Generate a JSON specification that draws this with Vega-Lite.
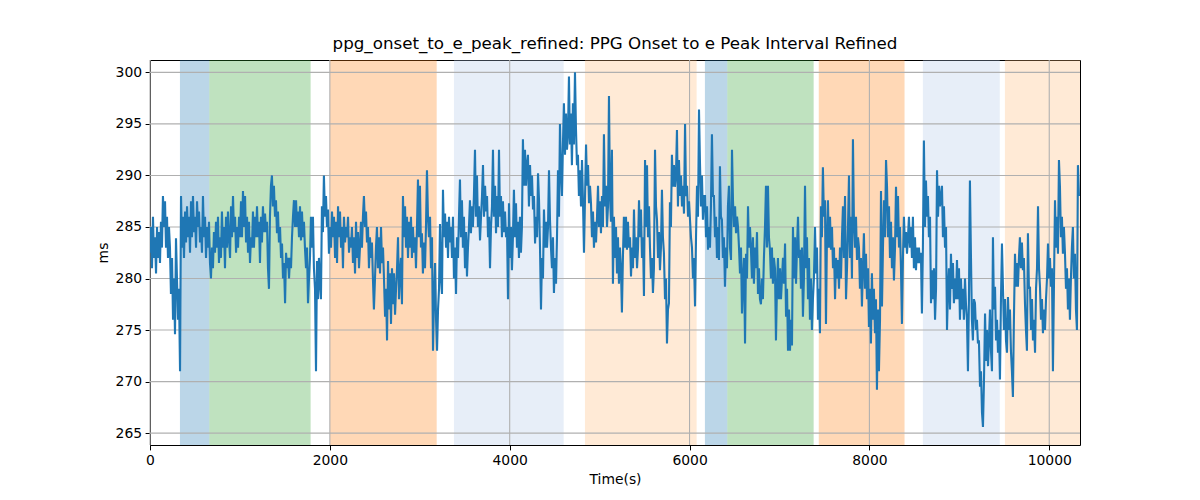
{
"$schema": "https://vega.github.io/schema/vega-lite/v6.json",
"autosize": "none",
"width": 930,
"height": 385,
"padding": {"left": 150, "top": 60, "right": 120, "bottom": 55},
"background": "white",
"title": {"text": "ppg_onset_to_e_peak_refined: PPG Onset to e Peak Interval Refined", "font": "DejaVu Sans", "fontSize": 16.7, "fontWeight": "normal", "color": "black", "offset": 7},
"config": {
  "view": {"stroke": "black", "strokeWidth": 1},
  "axis": {"domain": false, "grid": false, "labelFlush": false, "labelOverlap": false, "tickColor": "black", "tickSize": 4.9, "tickWidth": 1, "labelColor": "black", "titleColor": "black", "labelFont": "DejaVu Sans", "titleFont": "DejaVu Sans", "labelFontSize": 13.9, "titleFontSize": 13.9, "titleFontWeight": "normal", "labelPadding": 3.5, "titlePadding": 5}
},
"datasets": {
  "bands": [
    {"start": 333, "end": 660, "c": "blue"},
    {"start": 660, "end": 1786, "c": "green"},
    {"start": 2001, "end": 3188, "c": "orange"},
    {"start": 3380, "end": 4600, "c": "lightblue"},
    {"start": 4837, "end": 6079, "c": "lightorange"},
    {"start": 6171, "end": 6420, "c": "blue"},
    {"start": 6420, "end": 7380, "c": "green"},
    {"start": 7437, "end": 8391, "c": "orange"},
    {"start": 8595, "end": 9450, "c": "lightblue"},
    {"start": 9507, "end": 10342, "c": "lightorange"}
  ],
  "xgrid": [{"x": 0}, {"x": 2000}, {"x": 4000}, {"x": 6000}, {"x": 8000}, {"x": 10000}],
  "ygrid": [{"y": 265}, {"y": 270}, {"y": 275}, {"y": 280}, {"y": 285}, {"y": 290}, {"y": 295}, {"y": 300}],
  "series": [
{"t":0,"v":282.5},{"t":11,"v":285},{"t":22,"v":281},{"t":33,"v":286},{"t":44,"v":282},{"t":56,"v":284},{"t":67,"v":280.5},{"t":78,"v":285},{"t":89,"v":282},{"t":100,"v":284.5},
{"t":111,"v":281.5},{"t":122,"v":285.5},{"t":133,"v":283},{"t":144,"v":288},{"t":156,"v":285},{"t":167,"v":287.5},{"t":178,"v":283},{"t":189,"v":286},{"t":200,"v":282},{"t":211,"v":285},
{"t":222,"v":283},{"t":233,"v":278.5},{"t":245,"v":282},{"t":256,"v":276},{"t":267,"v":280},{"t":278,"v":274.6},{"t":289,"v":283.9},{"t":300,"v":280},{"t":311,"v":276},{"t":322,"v":279},
{"t":334,"v":271},{"t":345,"v":288},{"t":356,"v":283},{"t":367,"v":286},{"t":378,"v":282},{"t":390,"v":286.5},{"t":401,"v":283.5},{"t":412,"v":287},{"t":423,"v":284},{"t":434,"v":286},
{"t":445,"v":282.5},{"t":456,"v":287.5},{"t":467,"v":284},{"t":478,"v":288},{"t":489,"v":284.5},{"t":501,"v":286},{"t":512,"v":283},{"t":523,"v":287.5},{"t":534,"v":285},{"t":545,"v":286.5},
{"t":556,"v":283.5},{"t":567,"v":285},{"t":578,"v":282.5},{"t":589,"v":288},{"t":600,"v":284},{"t":612,"v":286},{"t":623,"v":282},{"t":634,"v":285},{"t":645,"v":283},{"t":656,"v":285.5},
{"t":667,"v":281.5},{"t":678,"v":280},{"t":689,"v":283},{"t":700,"v":281},{"t":711,"v":284.5},{"t":723,"v":282.5},{"t":734,"v":285.5},{"t":745,"v":283},{"t":756,"v":286},{"t":767,"v":281.5},
{"t":778,"v":284},{"t":789,"v":282},{"t":800,"v":286.5},{"t":811,"v":283},{"t":822,"v":285},{"t":834,"v":281},{"t":845,"v":286},{"t":856,"v":283},{"t":867,"v":286.5},{"t":878,"v":284},
{"t":890,"v":282},{"t":901,"v":287},{"t":912,"v":284},{"t":923,"v":288},{"t":934,"v":284.5},{"t":946,"v":286},{"t":957,"v":282.5},{"t":968,"v":285},{"t":979,"v":283},{"t":990,"v":286},
{"t":1001,"v":284},{"t":1012,"v":287.5},{"t":1023,"v":284},{"t":1034,"v":288.5},{"t":1045,"v":285},{"t":1057,"v":288},{"t":1068,"v":283.5},{"t":1079,"v":286},{"t":1090,"v":282.5},{"t":1101,"v":285.5},
{"t":1112,"v":281.5},{"t":1123,"v":284},{"t":1134,"v":283},{"t":1145,"v":286.5},{"t":1156,"v":283},{"t":1168,"v":286},{"t":1179,"v":284},{"t":1190,"v":287},{"t":1201,"v":284},{"t":1212,"v":285.5},
{"t":1223,"v":281.5},{"t":1234,"v":286},{"t":1245,"v":283.5},{"t":1256,"v":287},{"t":1267,"v":284.5},{"t":1279,"v":286.3},{"t":1290,"v":284.5},{"t":1301,"v":285.5},{"t":1312,"v":281},{"t":1323,"v":279},
{"t":1334,"v":286},{"t":1345,"v":289},{"t":1356,"v":290},{"t":1367,"v":287},{"t":1378,"v":289},{"t":1390,"v":286},{"t":1401,"v":287.6},{"t":1412,"v":284.4},{"t":1423,"v":286.5},{"t":1434,"v":283.5},
{"t":1446,"v":285},{"t":1457,"v":282},{"t":1468,"v":283.4},{"t":1479,"v":280},{"t":1490,"v":281.5},{"t":1502,"v":277.6},{"t":1513,"v":282.5},{"t":1524,"v":281},{"t":1535,"v":282},{"t":1546,"v":280},
{"t":1557,"v":282},{"t":1568,"v":281},{"t":1579,"v":284},{"t":1590,"v":286},{"t":1601,"v":287.6},{"t":1613,"v":285},{"t":1624,"v":287.6},{"t":1635,"v":285},{"t":1646,"v":286.5},{"t":1657,"v":284},
{"t":1668,"v":287},{"t":1679,"v":283.7},{"t":1690,"v":286.5},{"t":1701,"v":284},{"t":1712,"v":285.5},{"t":1724,"v":282.8},{"t":1735,"v":281},{"t":1746,"v":283},{"t":1757,"v":277.6},{"t":1768,"v":280},
{"t":1779,"v":282},{"t":1790,"v":286},{"t":1801,"v":283},{"t":1812,"v":286},{"t":1823,"v":281},{"t":1835,"v":279},{"t":1846,"v":271},{"t":1857,"v":281.7},{"t":1868,"v":278},{"t":1879,"v":282},
{"t":1890,"v":279.5},{"t":1901,"v":278},{"t":1912,"v":287},{"t":1923,"v":284.5},{"t":1934,"v":290},{"t":1946,"v":286},{"t":1957,"v":288},{"t":1968,"v":285},{"t":1979,"v":286.7},{"t":1990,"v":282.4},
{"t":2002,"v":285},{"t":2013,"v":283},{"t":2024,"v":286.5},{"t":2035,"v":284},{"t":2046,"v":286},{"t":2058,"v":282},{"t":2069,"v":285.5},{"t":2080,"v":281.5},{"t":2091,"v":287},{"t":2102,"v":284},
{"t":2113,"v":286.5},{"t":2124,"v":283},{"t":2135,"v":285},{"t":2146,"v":281},{"t":2157,"v":286},{"t":2169,"v":283.5},{"t":2180,"v":285},{"t":2191,"v":284},{"t":2202,"v":286},{"t":2213,"v":282.5},
{"t":2224,"v":284},{"t":2235,"v":283},{"t":2246,"v":285},{"t":2257,"v":281.5},{"t":2268,"v":284},{"t":2280,"v":280.5},{"t":2291,"v":285.5},{"t":2302,"v":282},{"t":2313,"v":284.5},{"t":2324,"v":281},
{"t":2335,"v":283},{"t":2346,"v":285.5},{"t":2357,"v":283},{"t":2368,"v":286},{"t":2379,"v":288},{"t":2391,"v":285},{"t":2402,"v":286.5},{"t":2413,"v":283.5},{"t":2424,"v":285},{"t":2435,"v":281},
{"t":2446,"v":284},{"t":2457,"v":282},{"t":2468,"v":283.5},{"t":2479,"v":280},{"t":2490,"v":277},{"t":2502,"v":280},{"t":2513,"v":283},{"t":2524,"v":285},{"t":2535,"v":281},{"t":2546,"v":284},
{"t":2558,"v":280.5},{"t":2569,"v":285},{"t":2580,"v":281.5},{"t":2591,"v":283},{"t":2602,"v":280},{"t":2614,"v":276.3},{"t":2625,"v":279},{"t":2636,"v":274},{"t":2647,"v":281.7},{"t":2658,"v":277},
{"t":2669,"v":280.5},{"t":2680,"v":275.6},{"t":2691,"v":281},{"t":2702,"v":277.5},{"t":2713,"v":280.5},{"t":2725,"v":276.5},{"t":2736,"v":279},{"t":2747,"v":281},{"t":2758,"v":284},{"t":2769,"v":278},
{"t":2780,"v":280.5},{"t":2791,"v":282},{"t":2802,"v":277.5},{"t":2813,"v":288},{"t":2824,"v":284},{"t":2836,"v":287},{"t":2847,"v":283},{"t":2858,"v":286},{"t":2869,"v":282},{"t":2880,"v":285.5},
{"t":2891,"v":283},{"t":2902,"v":286},{"t":2913,"v":282},{"t":2924,"v":285},{"t":2935,"v":282.5},{"t":2947,"v":284},{"t":2958,"v":281},{"t":2969,"v":285},{"t":2980,"v":289.6},{"t":2991,"v":284},
{"t":3002,"v":289},{"t":3013,"v":283},{"t":3024,"v":284.4},{"t":3035,"v":280.5},{"t":3046,"v":283.5},{"t":3058,"v":281},{"t":3069,"v":285},{"t":3080,"v":290.5},{"t":3091,"v":286},{"t":3102,"v":284},
{"t":3114,"v":286},{"t":3125,"v":281},{"t":3136,"v":284},{"t":3147,"v":273},{"t":3158,"v":278},{"t":3170,"v":281.5},{"t":3181,"v":276},{"t":3192,"v":273},{"t":3203,"v":277},{"t":3214,"v":279},
{"t":3225,"v":285.3},{"t":3236,"v":280},{"t":3247,"v":278.5},{"t":3258,"v":288.6},{"t":3269,"v":284},{"t":3281,"v":286.3},{"t":3292,"v":283},{"t":3303,"v":285.5},{"t":3314,"v":282},{"t":3325,"v":286},
{"t":3336,"v":283.5},{"t":3347,"v":285},{"t":3358,"v":282},{"t":3369,"v":286},{"t":3380,"v":280},{"t":3392,"v":283},{"t":3403,"v":278.5},{"t":3414,"v":284},{"t":3425,"v":282},{"t":3436,"v":286},
{"t":3447,"v":289.6},{"t":3458,"v":284},{"t":3469,"v":287.6},{"t":3480,"v":283},{"t":3491,"v":286},{"t":3503,"v":281},{"t":3514,"v":284.5},{"t":3525,"v":280.2},{"t":3536,"v":283},{"t":3547,"v":285},
{"t":3558,"v":287.6},{"t":3569,"v":284.4},{"t":3580,"v":287},{"t":3591,"v":285},{"t":3602,"v":288},{"t":3614,"v":292.5},{"t":3625,"v":286},{"t":3636,"v":290},{"t":3647,"v":285},{"t":3658,"v":287},
{"t":3670,"v":283.7},{"t":3681,"v":286},{"t":3692,"v":288},{"t":3703,"v":291},{"t":3714,"v":286},{"t":3726,"v":289},{"t":3737,"v":286.5},{"t":3748,"v":288},{"t":3759,"v":284},{"t":3770,"v":286},
{"t":3781,"v":281},{"t":3792,"v":285},{"t":3803,"v":287},{"t":3814,"v":292.5},{"t":3825,"v":286},{"t":3837,"v":289},{"t":3848,"v":284.4},{"t":3859,"v":288},{"t":3870,"v":285},{"t":3881,"v":292.5},
{"t":3892,"v":286},{"t":3903,"v":288},{"t":3914,"v":284},{"t":3925,"v":287.5},{"t":3936,"v":284.5},{"t":3948,"v":286.5},{"t":3959,"v":284},{"t":3970,"v":285},{"t":3981,"v":278},{"t":3992,"v":287.3},
{"t":4003,"v":282},{"t":4014,"v":285},{"t":4025,"v":280.8},{"t":4036,"v":284},{"t":4047,"v":288.6},{"t":4059,"v":284},{"t":4070,"v":287.3},{"t":4081,"v":283},{"t":4092,"v":285.5},{"t":4103,"v":282},
{"t":4114,"v":286},{"t":4125,"v":282.5},{"t":4136,"v":285},{"t":4147,"v":293.5},{"t":4158,"v":289},{"t":4170,"v":292.5},{"t":4181,"v":289},{"t":4192,"v":291},{"t":4203,"v":292},{"t":4214,"v":287},
{"t":4226,"v":291},{"t":4237,"v":288},{"t":4248,"v":290},{"t":4259,"v":286.7},{"t":4270,"v":288},{"t":4282,"v":283.4},{"t":4293,"v":286},{"t":4304,"v":284},{"t":4315,"v":290.2},{"t":4326,"v":287.6},
{"t":4337,"v":283},{"t":4348,"v":277},{"t":4359,"v":282},{"t":4370,"v":280},{"t":4381,"v":286.7},{"t":4393,"v":283},{"t":4404,"v":285.5},{"t":4415,"v":283},{"t":4426,"v":285},{"t":4437,"v":290.5},
{"t":4448,"v":285.7},{"t":4459,"v":283},{"t":4470,"v":281},{"t":4481,"v":284},{"t":4492,"v":278.6},{"t":4504,"v":282},{"t":4515,"v":279.5},{"t":4526,"v":284},{"t":4537,"v":290.5},{"t":4548,"v":286},
{"t":4559,"v":295},{"t":4570,"v":290.5},{"t":4581,"v":288},{"t":4592,"v":293},{"t":4603,"v":297},{"t":4615,"v":292},{"t":4626,"v":296},{"t":4637,"v":292.5},{"t":4648,"v":294},{"t":4659,"v":299.6},
{"t":4670,"v":293},{"t":4681,"v":296},{"t":4692,"v":291},{"t":4703,"v":297},{"t":4714,"v":293},{"t":4726,"v":300},{"t":4737,"v":294.5},{"t":4748,"v":291},{"t":4759,"v":292},{"t":4770,"v":288},
{"t":4782,"v":290.5},{"t":4793,"v":287},{"t":4804,"v":291.5},{"t":4815,"v":287.5},{"t":4826,"v":282.5},{"t":4838,"v":288},{"t":4849,"v":293},{"t":4860,"v":289},{"t":4871,"v":291},{"t":4882,"v":287.3},
{"t":4893,"v":289},{"t":4904,"v":287.3},{"t":4915,"v":284},{"t":4926,"v":286.5},{"t":4937,"v":283},{"t":4949,"v":285.5},{"t":4960,"v":283.5},{"t":4971,"v":286},{"t":4982,"v":289},{"t":4993,"v":285},
{"t":5004,"v":287.5},{"t":5015,"v":284.4},{"t":5026,"v":288},{"t":5037,"v":285},{"t":5048,"v":294},{"t":5060,"v":287},{"t":5071,"v":289},{"t":5082,"v":285},{"t":5093,"v":287},{"t":5104,"v":297.7},
{"t":5115,"v":288},{"t":5126,"v":285.5},{"t":5137,"v":292.5},{"t":5148,"v":279.5},{"t":5159,"v":286},{"t":5171,"v":282},{"t":5182,"v":285},{"t":5193,"v":280.5},{"t":5204,"v":284},{"t":5215,"v":279.5},
{"t":5226,"v":283},{"t":5237,"v":281},{"t":5248,"v":276.7},{"t":5259,"v":282},{"t":5270,"v":286},{"t":5282,"v":283},{"t":5293,"v":286},{"t":5304,"v":282.8},{"t":5315,"v":285.5},{"t":5326,"v":283},
{"t":5338,"v":284},{"t":5349,"v":280.2},{"t":5360,"v":283},{"t":5371,"v":281},{"t":5382,"v":286.7},{"t":5394,"v":282},{"t":5405,"v":284},{"t":5416,"v":281},{"t":5427,"v":283},{"t":5438,"v":287.6},
{"t":5449,"v":284},{"t":5460,"v":286.7},{"t":5471,"v":282},{"t":5482,"v":284},{"t":5493,"v":278.3},{"t":5505,"v":291.5},{"t":5516,"v":285},{"t":5527,"v":291},{"t":5538,"v":284},{"t":5549,"v":287},
{"t":5560,"v":283},{"t":5571,"v":280},{"t":5582,"v":282},{"t":5593,"v":278.6},{"t":5604,"v":281},{"t":5616,"v":292.5},{"t":5627,"v":287},{"t":5638,"v":285.7},{"t":5649,"v":282},{"t":5660,"v":284.5},
{"t":5671,"v":280.8},{"t":5682,"v":283},{"t":5693,"v":288.6},{"t":5704,"v":284},{"t":5715,"v":282.5},{"t":5727,"v":278},{"t":5738,"v":280},{"t":5749,"v":273.7},{"t":5760,"v":277},{"t":5771,"v":277.6},
{"t":5782,"v":287.4},{"t":5793,"v":285},{"t":5804,"v":292},{"t":5815,"v":288.9},{"t":5826,"v":291},{"t":5838,"v":288.9},{"t":5849,"v":290},{"t":5860,"v":294.4},{"t":5871,"v":287},{"t":5882,"v":291.5},
{"t":5894,"v":288},{"t":5905,"v":290},{"t":5916,"v":287},{"t":5927,"v":289},{"t":5938,"v":286.3},{"t":5950,"v":295},{"t":5961,"v":288},{"t":5972,"v":289},{"t":5983,"v":286},{"t":5994,"v":287.5},
{"t":6005,"v":285.7},{"t":6016,"v":284},{"t":6027,"v":283},{"t":6038,"v":280},{"t":6049,"v":282},{"t":6061,"v":277.3},{"t":6072,"v":284},{"t":6083,"v":289},{"t":6094,"v":286},{"t":6105,"v":296.4},
{"t":6116,"v":291.2},{"t":6127,"v":287},{"t":6138,"v":290},{"t":6149,"v":285.7},{"t":6160,"v":288},{"t":6172,"v":288},{"t":6183,"v":284},{"t":6194,"v":287},{"t":6205,"v":282.8},{"t":6216,"v":285},
{"t":6227,"v":283},{"t":6238,"v":287},{"t":6249,"v":294},{"t":6260,"v":288},{"t":6271,"v":288},{"t":6283,"v":284},{"t":6294,"v":286},{"t":6305,"v":282},{"t":6316,"v":285},{"t":6327,"v":281.8},
{"t":6338,"v":290.9},{"t":6349,"v":286},{"t":6360,"v":285.7},{"t":6371,"v":282},{"t":6382,"v":284},{"t":6394,"v":279.2},{"t":6405,"v":283},{"t":6416,"v":281},{"t":6427,"v":287},{"t":6438,"v":289},
{"t":6450,"v":283},{"t":6461,"v":281.8},{"t":6472,"v":292.5},{"t":6483,"v":287.6},{"t":6494,"v":285},{"t":6506,"v":287},{"t":6517,"v":284.4},{"t":6528,"v":286},{"t":6539,"v":285},{"t":6550,"v":283},
{"t":6561,"v":280.5},{"t":6572,"v":283},{"t":6583,"v":276.6},{"t":6594,"v":280},{"t":6605,"v":282},{"t":6617,"v":273.7},{"t":6628,"v":282.4},{"t":6639,"v":280},{"t":6650,"v":287},{"t":6661,"v":283},
{"t":6672,"v":285},{"t":6683,"v":282.8},{"t":6694,"v":280},{"t":6705,"v":284},{"t":6716,"v":279.5},{"t":6728,"v":283},{"t":6739,"v":281},{"t":6750,"v":284.5},{"t":6761,"v":278.5},{"t":6772,"v":281},
{"t":6783,"v":278},{"t":6794,"v":277.5},{"t":6805,"v":280},{"t":6816,"v":278},{"t":6827,"v":282},{"t":6839,"v":285},{"t":6850,"v":289},{"t":6861,"v":283},{"t":6872,"v":289},{"t":6883,"v":284},
{"t":6894,"v":282.8},{"t":6905,"v":280},{"t":6916,"v":283},{"t":6927,"v":279.5},{"t":6938,"v":282},{"t":6950,"v":281},{"t":6961,"v":274},{"t":6972,"v":279},{"t":6983,"v":282},{"t":6994,"v":278},
{"t":7006,"v":281},{"t":7017,"v":278},{"t":7028,"v":280},{"t":7039,"v":282},{"t":7050,"v":279.5},{"t":7062,"v":283.4},{"t":7073,"v":276.3},{"t":7084,"v":279},{"t":7095,"v":273},{"t":7106,"v":277},
{"t":7117,"v":273},{"t":7128,"v":276},{"t":7139,"v":273.5},{"t":7150,"v":285},{"t":7161,"v":280},{"t":7173,"v":284},{"t":7184,"v":279.5},{"t":7195,"v":283},{"t":7206,"v":286},{"t":7217,"v":282},
{"t":7228,"v":282.8},{"t":7239,"v":279},{"t":7250,"v":283},{"t":7261,"v":276.3},{"t":7272,"v":280},{"t":7284,"v":289},{"t":7295,"v":281},{"t":7306,"v":284},{"t":7317,"v":278},{"t":7328,"v":282},
{"t":7339,"v":276},{"t":7350,"v":280},{"t":7361,"v":275},{"t":7372,"v":278},{"t":7383,"v":280},{"t":7395,"v":285},{"t":7406,"v":280.5},{"t":7417,"v":283},{"t":7428,"v":276},{"t":7439,"v":279},
{"t":7450,"v":274.7},{"t":7461,"v":287},{"t":7472,"v":284},{"t":7483,"v":290.8},{"t":7494,"v":286},{"t":7506,"v":287.6},{"t":7517,"v":275.6},{"t":7528,"v":284},{"t":7539,"v":287.6},{"t":7550,"v":283},
{"t":7562,"v":286},{"t":7573,"v":282.8},{"t":7584,"v":285},{"t":7595,"v":281},{"t":7606,"v":283},{"t":7618,"v":278},{"t":7629,"v":282},{"t":7640,"v":280},{"t":7651,"v":281.8},{"t":7662,"v":279},
{"t":7673,"v":283},{"t":7684,"v":280},{"t":7695,"v":284},{"t":7706,"v":287},{"t":7717,"v":282},{"t":7729,"v":288},{"t":7740,"v":278},{"t":7751,"v":281},{"t":7762,"v":285},{"t":7773,"v":290},
{"t":7784,"v":282},{"t":7795,"v":286},{"t":7806,"v":280},{"t":7817,"v":293.5},{"t":7828,"v":285.6},{"t":7840,"v":283},{"t":7851,"v":286},{"t":7862,"v":281.8},{"t":7873,"v":284},{"t":7884,"v":283},
{"t":7895,"v":279},{"t":7906,"v":282},{"t":7917,"v":277.3},{"t":7928,"v":281},{"t":7939,"v":284.4},{"t":7951,"v":279},{"t":7962,"v":282.4},{"t":7973,"v":278},{"t":7984,"v":281},{"t":7995,"v":275.3},
{"t":8006,"v":279},{"t":8017,"v":273.7},{"t":8028,"v":280.5},{"t":8039,"v":276},{"t":8050,"v":279},{"t":8062,"v":274.7},{"t":8073,"v":278},{"t":8084,"v":269.2},{"t":8095,"v":277},{"t":8106,"v":271},
{"t":8118,"v":276},{"t":8129,"v":288.5},{"t":8140,"v":277.3},{"t":8151,"v":283},{"t":8162,"v":287.6},{"t":8174,"v":284},{"t":8185,"v":291.5},{"t":8196,"v":288.9},{"t":8207,"v":284},{"t":8218,"v":287},
{"t":8229,"v":282},{"t":8240,"v":285.5},{"t":8251,"v":281},{"t":8262,"v":284},{"t":8273,"v":279.8},{"t":8285,"v":283},{"t":8296,"v":288.9},{"t":8307,"v":284},{"t":8318,"v":288},{"t":8329,"v":283},
{"t":8340,"v":285},{"t":8351,"v":281},{"t":8362,"v":275.6},{"t":8373,"v":282},{"t":8384,"v":286},{"t":8396,"v":283},{"t":8407,"v":284.5},{"t":8418,"v":282.4},{"t":8429,"v":284},{"t":8440,"v":286},
{"t":8451,"v":283},{"t":8462,"v":285},{"t":8473,"v":282},{"t":8484,"v":286},{"t":8495,"v":281},{"t":8507,"v":284},{"t":8518,"v":280.8},{"t":8529,"v":283},{"t":8540,"v":281.5},{"t":8551,"v":283},
{"t":8562,"v":281.5},{"t":8573,"v":282.5},{"t":8584,"v":276.6},{"t":8595,"v":283},{"t":8606,"v":293.4},{"t":8618,"v":285},{"t":8629,"v":289.5},{"t":8640,"v":286},{"t":8651,"v":288},{"t":8662,"v":284},
{"t":8674,"v":286},{"t":8685,"v":277.6},{"t":8696,"v":280.8},{"t":8707,"v":278},{"t":8718,"v":281},{"t":8730,"v":276},{"t":8741,"v":279},{"t":8752,"v":290.5},{"t":8763,"v":286},{"t":8774,"v":289},
{"t":8785,"v":287},{"t":8796,"v":288},{"t":8807,"v":289},{"t":8818,"v":284},{"t":8829,"v":287},{"t":8841,"v":283},{"t":8852,"v":285},{"t":8863,"v":275},{"t":8874,"v":279},{"t":8885,"v":281},
{"t":8896,"v":277},{"t":8907,"v":282.4},{"t":8918,"v":279},{"t":8929,"v":281.5},{"t":8940,"v":277.6},{"t":8952,"v":280},{"t":8963,"v":278},{"t":8974,"v":281.8},{"t":8985,"v":278},{"t":8996,"v":281},
{"t":9007,"v":276},{"t":9018,"v":280},{"t":9029,"v":277},{"t":9040,"v":279},{"t":9051,"v":276},{"t":9063,"v":280},{"t":9074,"v":277.5},{"t":9085,"v":276},{"t":9096,"v":271},{"t":9107,"v":278},
{"t":9118,"v":289.5},{"t":9129,"v":282.4},{"t":9140,"v":276},{"t":9151,"v":274},{"t":9162,"v":278},{"t":9174,"v":277.6},{"t":9185,"v":275},{"t":9196,"v":276},{"t":9207,"v":273.7},{"t":9218,"v":274},
{"t":9230,"v":269.5},{"t":9241,"v":271},{"t":9252,"v":267},{"t":9263,"v":265.6},{"t":9274,"v":270},{"t":9286,"v":276.6},{"t":9297,"v":272},{"t":9308,"v":275},{"t":9319,"v":271.5},{"t":9330,"v":274},
{"t":9341,"v":277},{"t":9352,"v":273},{"t":9363,"v":271},{"t":9374,"v":284},{"t":9385,"v":277},{"t":9397,"v":279.2},{"t":9408,"v":274},{"t":9419,"v":276},{"t":9430,"v":272.8},{"t":9441,"v":275},
{"t":9452,"v":270.2},{"t":9463,"v":278},{"t":9474,"v":283.4},{"t":9485,"v":279.2},{"t":9496,"v":275},{"t":9508,"v":278},{"t":9519,"v":274},{"t":9530,"v":272.8},{"t":9541,"v":278.2},{"t":9552,"v":275},
{"t":9563,"v":277},{"t":9574,"v":273},{"t":9585,"v":271},{"t":9596,"v":268.5},{"t":9607,"v":276},{"t":9619,"v":282.4},{"t":9630,"v":279.2},{"t":9641,"v":281.5},{"t":9652,"v":279.2},{"t":9663,"v":282},
{"t":9674,"v":284},{"t":9685,"v":281},{"t":9696,"v":283.5},{"t":9707,"v":280.8},{"t":9718,"v":282},{"t":9730,"v":277.6},{"t":9741,"v":275},{"t":9752,"v":273},{"t":9763,"v":284.4},{"t":9774,"v":279},
{"t":9786,"v":279.2},{"t":9797,"v":275},{"t":9808,"v":278},{"t":9819,"v":274},{"t":9830,"v":276},{"t":9842,"v":272.8},{"t":9853,"v":279},{"t":9864,"v":281},{"t":9875,"v":287},{"t":9886,"v":281},
{"t":9897,"v":279.2},{"t":9908,"v":276},{"t":9919,"v":278},{"t":9930,"v":274.7},{"t":9941,"v":277},{"t":9953,"v":275},{"t":9964,"v":278},{"t":9975,"v":280},{"t":9986,"v":283.4},{"t":9997,"v":280},
{"t":10008,"v":282},{"t":10019,"v":279.2},{"t":10030,"v":281},{"t":10041,"v":271},{"t":10052,"v":279},{"t":10064,"v":287.6},{"t":10075,"v":283},{"t":10086,"v":286},{"t":10097,"v":282.4},{"t":10108,"v":291.5},
{"t":10119,"v":288.9},{"t":10130,"v":284},{"t":10141,"v":286},{"t":10152,"v":282.4},{"t":10163,"v":285},{"t":10175,"v":282.4},{"t":10186,"v":279},{"t":10197,"v":281},{"t":10208,"v":277},{"t":10219,"v":280},
{"t":10230,"v":276},{"t":10241,"v":280},{"t":10252,"v":283},{"t":10263,"v":285},{"t":10274,"v":280},{"t":10286,"v":282.4},{"t":10297,"v":277},{"t":10308,"v":275},{"t":10319,"v":291},{"t":10330,"v":288}
  ]
},
"layer": [
  {
    "data": {"name": "bands"},
    "mark": {"type": "rect", "clip": true},
    "encoding": {
      "x": {"field": "start", "type": "quantitative", "title": "Time(s)", "scale": {"domain": [0, 10342], "nice": false, "zero": false}},
      "x2": {"field": "end"},
      "color": {"field": "c", "type": "nominal", "legend": null, "scale": {"domain": ["blue", "green", "orange", "lightblue", "lightorange"], "range": ["#1f77b4", "#2ca02c", "#ff7f0e", "#aec7e8", "#ffbb78"]}},
      "opacity": {"value": 0.3}
    }
  },
  {
    "data": {"name": "xgrid"},
    "mark": {"type": "rule", "color": "#b0b0b0", "strokeWidth": 1.1},
    "encoding": {
      "x": {"field": "x", "type": "quantitative", "title": "Time(s)"}
    }
  },
  {
    "data": {"name": "ygrid"},
    "mark": {"type": "rule", "color": "#b0b0b0", "strokeWidth": 1.1},
    "encoding": {
      "y": {"field": "y", "type": "quantitative", "title": "ms", "scale": {"domain": [263.85, 301.2], "nice": false, "zero": false}}
    }
  },
  {
    "data": {"name": "series"},
    "mark": {"type": "line", "color": "#1f77b4", "strokeWidth": 2.1, "clip": true},
    "encoding": {
      "x": {"field": "t", "type": "quantitative", "title": "Time(s)", "axis": {"values": [0, 2000, 4000, 6000, 8000, 10000], "format": "d"}},
      "y": {"field": "v", "type": "quantitative", "title": "ms", "axis": {"values": [265, 270, 275, 280, 285, 290, 295, 300], "format": "d"}}
    }
  }
]
}
